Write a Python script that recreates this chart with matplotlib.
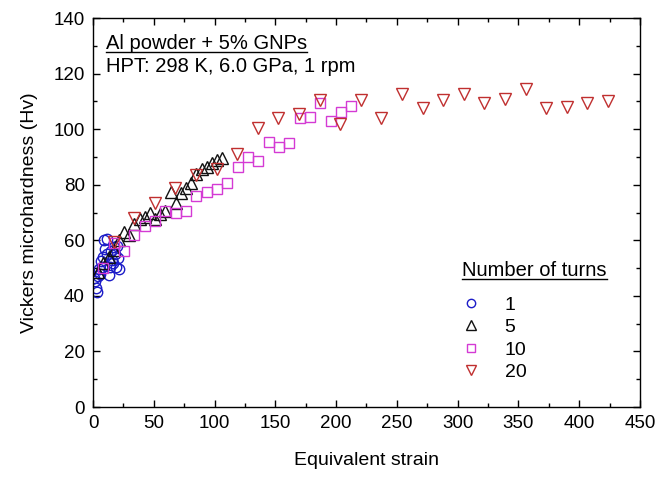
import matplotlib
matplotlib.use("Agg")
import matplotlib.pyplot as plt
from matplotlib.lines import Line2D

plt.rcParams['font.family'] = ['Liberation Sans', 'DejaVu Sans']

# 1 turn
blue_x = [0.9, 1.7, 2.6, 3.4, 4.3, 5.1, 6.0, 6.8, 7.7, 8.5, 9.4, 10.2, 11.1,
          11.9, 12.8, 13.6, 14.5, 15.3, 16.2, 17.0, 17.9, 18.7, 19.6, 20.4, 21.3]
blue_y = [46.5, 45.5, 43.0, 41.5, 47.0, 49.5, 48.0, 52.5, 50.5, 54.0, 60.0, 57.0, 60.5,
          55.0, 47.5, 50.5, 56.0, 53.0, 52.0, 57.5, 55.0, 50.5, 58.0, 53.5, 49.5]
# 5 turns
black_x = [4.3, 8.5, 12.8, 17.0, 21.3, 25.5, 29.8, 34.0, 38.3, 42.5, 46.8, 51.0, 55.3,
           59.5, 63.8, 68.0, 72.3, 76.5, 80.8, 85.0, 89.3, 93.5, 97.8, 102.0, 106.3]
black_y = [48.5, 52.0, 54.0, 56.5, 60.0, 63.0, 62.0, 66.0, 67.5, 68.5, 70.0, 67.5, 69.5,
           70.5, 77.5, 73.5, 77.0, 79.0, 80.5, 84.0, 85.5, 86.5, 88.0, 89.0, 89.5]
# 10 turns
mag_x = [8.5, 17.0, 25.5, 34.0, 42.5, 51.0, 59.5, 68.0, 76.5, 85.0, 93.5, 102.0, 110.5,
         119.0, 127.5, 136.0, 144.5, 153.0, 161.5, 170.0, 178.5, 187.0, 195.5, 204.0, 212.5]
mag_y = [50.0, 59.0, 56.0, 62.0, 65.0, 67.0, 70.5, 70.0, 70.5, 76.0, 77.5, 78.5, 80.5,
         86.5, 90.0, 88.5, 95.5, 93.5, 95.0, 104.0, 104.5, 109.5, 103.0, 106.0, 108.5]
# 20 turns
red_x = [17.0, 33.9, 50.9, 67.8, 84.8, 101.7, 118.7, 135.6, 152.6, 169.5, 186.5, 203.4, 220.4,
         237.3, 254.3, 271.2, 288.2, 305.1, 322.1, 339.0, 356.0, 372.9, 389.9, 406.8, 423.8]
red_y = [59.5, 68.0, 73.5, 79.0, 83.5, 85.5, 91.0, 100.5, 104.0, 105.5, 110.5, 102.0, 110.5,
         104.0, 112.5, 107.5, 110.5, 112.5, 109.5, 111.0, 114.5, 107.5, 108.0, 109.5, 110.0]

labels = ['1', '5', '10', '20']

fig = plt.figure(figsize=(6.57, 4.83), dpi=100)
ax = fig.add_axes([0.1416, 0.1573, 0.8324, 0.8054])

ms = dict(linestyle='none', markerfacecolor='none', markeredgewidth=1.0)
ax.plot(blue_x, blue_y, marker='o', markersize=7.5, color='#1c1cc8', **ms)
ax.plot(black_x, black_y, marker='^', markersize=9, color='#111111', **ms)
ax.plot(mag_x, mag_y, marker='s', markersize=7, color='#d43ad4', **ms)
ax.plot(red_x, red_y, marker='v', markersize=9, color='#c02f2f', **ms)

ax.set_xlim(0, 450)
ax.set_ylim(0, 140)
ax.set_xticks(range(0, 451, 50))
ax.set_xticks(range(0, 451, 25), minor=True)
ax.set_yticks(range(0, 141, 20))
ax.set_yticks(range(0, 141, 10), minor=True)
ax.tick_params(which='both', direction='in', top=True, right=True, labelsize=13.5, width=1.0)
ax.tick_params(which='major', length=5, pad=6)
ax.tick_params(which='minor', length=3)
for s in ax.spines.values():
    s.set_linewidth(1.0)

ax.set_xlabel('Equivalent strain', fontsize=14, labelpad=14)
ax.set_ylabel('Vickers microhardness (Hv)', fontsize=14, labelpad=11)

t1 = ax.text(0.024, 0.935, 'Al powder + 5% GNPs', transform=ax.transAxes,
             fontsize=14.5, va='center', ha='left')
ax.text(0.024, 0.876, 'HPT: 298 K, 6.0 GPa, 1 rpm', transform=ax.transAxes,
        fontsize=14.5, va='center', ha='left')
t2 = ax.text(0.675, 0.352, 'Number of turns', transform=ax.transAxes,
             fontsize=14.5, va='center', ha='left')

handles = [Line2D([], [], marker='o', markersize=6, color='#1c1cc8', **ms),
           Line2D([], [], marker='^', markersize=6.5, color='#111111', **ms),
           Line2D([], [], marker='s', markersize=5.5, color='#d43ad4', **ms),
           Line2D([], [], marker='v', markersize=6.5, color='#c02f2f', **ms)]
ax.legend(handles, labels, frameon=False, loc='upper left', bbox_to_anchor=(0.66, 0.305),
          fontsize=14, handlelength=1.0, handletextpad=1.2, labelspacing=0.25,
          borderaxespad=0)

# underline the two headings
fig.canvas.draw()
r = fig.canvas.get_renderer()
inv = ax.transAxes.inverted()
for t in (t1, t2):
    bb = t.get_window_extent(r)
    (x0, y0), (x1, y1) = inv.transform([[bb.x0, bb.y0], [bb.x1, bb.y1]])
    ax.plot([x0, x1], [y0 + 0.002, y0 + 0.002], transform=ax.transAxes, color='black',
            linewidth=1.0, clip_on=False)

fig.savefig('out.png', dpi=100)
